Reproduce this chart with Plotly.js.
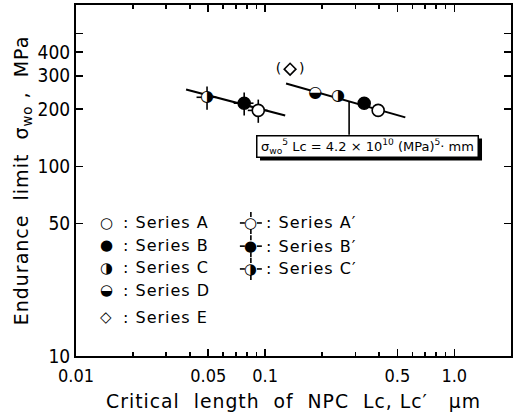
<!DOCTYPE html>
<html><head><meta charset="utf-8">
<script src="https://cdn.plot.ly/plotly-3.0.1.min.js"></script>
<style>
html,body{margin:0;padding:0;background:#fff}
#chart{width:513px;height:415px}
.annotation-text,.xtitle,.ytitle{letter-spacing:1px}
.annotation[data-index="0"] .annotation-text{letter-spacing:0}
</style>
</head><body><div id="chart"></div>
<script>
// ---- data ----
// unprimed series (right group)
const lcA = [0.396],  swA = [197];
const lcB = [0.334],  swB = [215];
const lcC = [0.243],  swC = [234];
const lcD = [0.184],  swD = [242];
const lcE = [0.1355], swE = [325];
// primed series (left group)
const lcA2 = [0.092],  swA2 = [197];
const lcB2 = [0.0775], swB2 = [215];
const lcC2 = [0.0493], swC2 = [231];
// fitted lines sigma_wo^5 * Lc = const
const fitLeftLc  = [0.0382, 0.1277], fitLeftSw  = [254, 185];
const fitRightLc = [0.129, 0.551],   fitRightSw = [273, 181];
const pointerLc = 0.278, pointerSw = 220;
// ticks
const xTickVals = [0.01, 0.05, 0.1, 0.5, 1];
const xTickText = ['0.01', '0.05', '0.1', '0.5', '1.0'];
const xMinorVals = [0.02,0.03,0.04,0.06,0.07,0.08,0.09,0.2,0.3,0.4,0.6,0.7,0.8,0.9];
const yTickVals = [10, 50, 100, 200, 300, 400, 500];
const yTickText = ['10', '50', '100', '200', '300', '400', ''];
// legend labels
const legendLeft  = [['○', ': Series A'], ['●', ': Series B'], ['◑', ': Series C'], ['◒', ': Series D'], ['◇', ': Series E']];
const legendRight = [['○', ': Series A′'], ['●', ': Series B′'], ['◑', ': Series C′']];

// ---- styles ----
const FONT = 'DejaVu Sans';
const openCircle = {symbol: 'circle', size: 12, color: '#fff', line: {color: '#000', width: 1.6}};
const fullCircle = {symbol: 'circle', size: 12, color: '#000', line: {color: '#000', width: 1.6}};
const glyphBase  = {symbol: 'circle', size: 11, color: '#fff', line: {width: 0}};
const errY = {type: 'percent', value: 14, width: 0, thickness: 1.6, color: '#000'};
const errX = {type: 'percent', value: 12, width: 0, thickness: 1.6, color: '#000'};
const glyphFont = {family: FONT, size: 16, color: '#000'};

const traces = [
  {x: fitLeftLc, y: fitLeftSw, mode: 'lines', line: {color: '#000', width: 2}},
  {x: fitRightLc, y: fitRightSw, mode: 'lines', line: {color: '#000', width: 2}},
  {x: lcA, y: swA, mode: 'markers', marker: openCircle},
  {x: lcB, y: swB, mode: 'markers', marker: fullCircle},
  {x: lcC, y: swC, mode: 'markers+text', marker: glyphBase, text: ['◑'], textposition: 'middle center', textfont: glyphFont},
  {x: lcD, y: swD, mode: 'markers+text', marker: glyphBase, text: ['◒'], textposition: 'middle center', textfont: glyphFont},
  {x: lcE, y: swE, mode: 'markers+text', marker: {symbol: 'diamond-open', size: 9, color: '#000', line: {width: 1.6}},
   text: ['(    )'], textposition: 'middle center', textfont: {family: FONT, size: 14, color: '#000'}},
  {x: lcA2, y: swA2, mode: 'markers', marker: openCircle, error_y: errY, error_x: errX},
  {x: lcB2, y: swB2, mode: 'markers', marker: fullCircle, error_y: errY, error_x: errX},
  {x: lcC2, y: swC2, mode: 'markers+text', marker: glyphBase, text: ['◑'], textposition: 'middle center', textfont: glyphFont,
   error_y: errY, error_x: errX}
];

// ---- annotations: equation box, pointer, legend ----
const boxText = 'σ<sub>wo</sub><sup>5</sup> Lc = 4.2 × 10<sup>10</sup> (MPa)<sup>5</sup>· mm';
const boxX = 0.669, boxY = 0.597;
const boxW = 216, boxH = 16;
const annotations = [
  {xref: 'paper', yref: 'paper', x: boxX, y: boxY, xanchor: 'center', yanchor: 'middle', text: boxText, showarrow: false,
   width: boxW, height: boxH, align: 'center', valign: 'middle',
   font: {family: FONT, size: 13, color: '#000'}, bgcolor: '#fff', bordercolor: '#000', borderwidth: 1.5, borderpad: 2},
  {xref: 'x', yref: 'y', x: Math.log10(pointerLc), y: Math.log10(pointerSw), text: '', showarrow: true,
   arrowhead: 0, arrowwidth: 1.6, arrowcolor: '#000', ax: 0, ay: 35, standoff: 0}
];
// drop shadow of the equation box
const shapes = [
  {type: 'rect', xref: 'paper', yref: 'paper', xsizemode: 'pixel', ysizemode: 'pixel',
   xanchor: boxX, yanchor: boxY, x0: -boxW / 2 - 3 + 4, x1: boxW / 2 + 3 + 4, y0: -boxH / 2 - 3 - 3, y1: boxH / 2 + 3 - 3,
   fillcolor: '#000', line: {width: 0}}
];
const leftSymX = 0.071, leftTextX = 0.103, rightSymX = 0.402, rightTextX = 0.432;
const rowsLeft = [0.379, 0.316, 0.251, 0.188, 0.111];
const rowsRight = [0.379, 0.313, 0.248];
legendLeft.forEach((d, i) => {
  annotations.push({xref: 'paper', yref: 'paper', x: leftSymX, y: rowsLeft[i], text: d[0], showarrow: false,
    xanchor: 'center', yanchor: 'middle', font: {family: FONT, size: 15, color: '#000'}});
  annotations.push({xref: 'paper', yref: 'paper', x: leftTextX, y: rowsLeft[i], text: d[1], showarrow: false,
    xanchor: 'left', yanchor: 'middle', font: {family: FONT, size: 16, color: '#000'}});
});
legendRight.forEach((d, i) => {
  annotations.push({xref: 'paper', yref: 'paper', x: rightSymX, y: rowsRight[i], text: d[0], showarrow: false,
    xanchor: 'center', yanchor: 'middle', font: {family: FONT, size: 15, color: '#000'}});
  annotations.push({xref: 'paper', yref: 'paper', x: rightTextX, y: rowsRight[i], text: d[1], showarrow: false,
    xanchor: 'left', yanchor: 'middle', font: {family: FONT, size: 16, color: '#000'}});
  [[0, 6, 0, 11], [0, -6, 0, -11], [6, 0, 11, 0], [-6, 0, -11, 0]].forEach(s => {
    shapes.push({type: 'line', xref: 'paper', yref: 'paper', xsizemode: 'pixel', ysizemode: 'pixel',
      xanchor: rightSymX, yanchor: rowsRight[i], x0: s[0], y0: s[1], x1: s[2], y1: s[3],
      line: {color: '#000', width: 1.6}});
  });
});

const layout = {
  width: 513, height: 415,
  margin: {l: 76, r: 2, t: 5, b: 59},
  paper_bgcolor: '#fff', plot_bgcolor: '#fff',
  showlegend: false,
  font: {family: FONT, color: '#000'},
  xaxis: {
    type: 'log', range: [-2, 0.3], showgrid: false, zeroline: false,
    showline: true, linecolor: '#000', linewidth: 2, mirror: 'allticks',
    ticks: 'inside', ticklen: 7, tickwidth: 1.5, tickcolor: '#000',
    tickmode: 'array', tickvals: xTickVals, ticktext: xTickText, ticklabelstandoff: 2,
    tickfont: {family: 'DejaVu Sans Condensed', size: 18, color: '#000'},
    minor: {tickmode: 'array', tickvals: xMinorVals, ticks: 'inside', ticklen: 4, tickwidth: 1.5, tickcolor: '#000', showgrid: false},
    title: {text: 'Critical  length  of  NPC  Lc, Lc′   μm', font: {family: FONT, size: 18.8, color: '#000'}, standoff: 10}
  },
  yaxis: {
    type: 'log', range: [1, 2.85], showgrid: false, zeroline: false,
    showline: true, linecolor: '#000', linewidth: 2, mirror: 'allticks',
    ticks: 'inside', ticklen: 7, tickwidth: 1.5, tickcolor: '#000',
    tickmode: 'array', tickvals: yTickVals, ticktext: yTickText,
    tickfont: {family: 'DejaVu Sans Condensed', size: 19, color: '#000'},
    title: {text: 'Endurance  limit  σ<sub>wo</sub> ,  MPa', font: {family: FONT, size: 19, color: '#000'}, standoff: 4}
  },
  annotations: annotations,
  shapes: shapes
};
Plotly.newPlot('chart', traces, layout, {staticPlot: true, displayModeBar: false});
</script>
</body></html>
